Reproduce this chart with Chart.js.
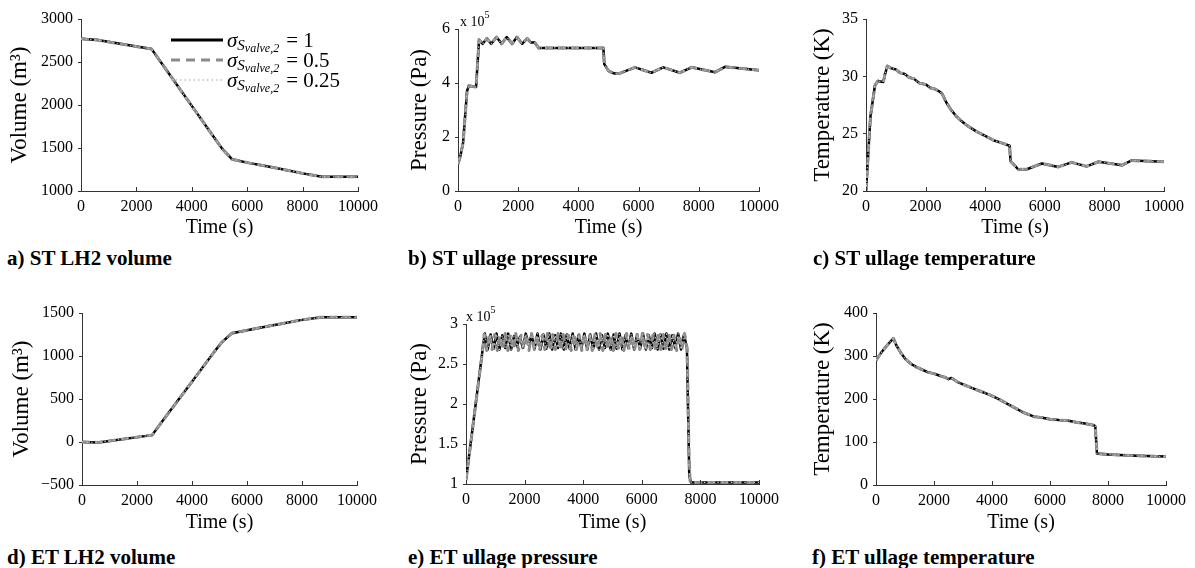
<!DOCTYPE html>
<html><head><meta charset="utf-8">
<script src="https://cdn.jsdelivr.net/npm/chart.js@4.4.1/dist/chart.umd.min.js"></script>
<style>
html,body{margin:0;padding:0;background:#fff;}
body{width:1195px;height:568px;position:relative;overflow:hidden;font-family:'Liberation Serif','Times New Roman',serif;color:#000;}
canvas.pc{position:absolute;}
.ptitle{position:absolute;font-weight:bold;font-size:21px;line-height:24px;white-space:nowrap;}
.mult{position:absolute;font-size:14px;line-height:16px;white-space:nowrap;}
.mult sup{font-size:10px;position:relative;top:-2px;}
.legend{position:absolute;left:171px;top:30px;}
.lrow{height:20px;display:flex;align-items:center;white-space:nowrap;}
.lrow svg{width:52px;height:20px;margin-right:4px;}
.sig{font-style:italic;font-size:21px;}
.s1{font-style:italic;font-size:15px;position:relative;top:5px;}
.s2{font-style:italic;font-size:12px;position:relative;top:2px;}
.eq{font-size:21px;margin-left:7px;}
</style>
</head>
<body>
<canvas id="ca" class="pc" width="395" height="245" style="left:0;top:0"></canvas>
<canvas id="cb" class="pc" width="395" height="245" style="left:400px;top:0"></canvas>
<canvas id="cc" class="pc" width="395" height="245" style="left:800px;top:0"></canvas>
<canvas id="cd" class="pc" width="395" height="255" style="left:0;top:285px"></canvas>
<canvas id="ce" class="pc" width="395" height="255" style="left:400px;top:285px"></canvas>
<canvas id="cf" class="pc" width="395" height="255" style="left:800px;top:285px"></canvas>

<div class="mult" style="left:460px;top:9px">x 10<sup>5</sup></div>
<div class="mult" style="left:466px;top:304px">x 10<sup>5</sup></div>

<div class="legend">
  <div class="lrow"><svg viewBox="0 0 52 20"><line x1="0" y1="10" x2="52" y2="10" stroke="#000" stroke-width="3"/></svg><span class="sig">σ</span><span class="s1">S<span class="s2">valve,2</span></span><span class="eq">= 1</span></div>
  <div class="lrow"><svg viewBox="0 0 52 20"><line x1="0" y1="10" x2="52" y2="10" stroke="#8a8a8a" stroke-width="3" stroke-dasharray="9,6"/></svg><span class="sig">σ</span><span class="s1">S<span class="s2">valve,2</span></span><span class="eq">= 0.5</span></div>
  <div class="lrow"><svg viewBox="0 0 52 20"><line x1="0" y1="10" x2="52" y2="10" stroke="#bdbdbd" stroke-width="1.5" stroke-dasharray="1.5,3"/></svg><span class="sig">σ</span><span class="s1">S<span class="s2">valve,2</span></span><span class="eq">= 0.25</span></div>
</div>

<div class="ptitle" style="left:7px;top:246px">a) ST LH2 volume</div>
<div class="ptitle" style="left:408px;top:246px">b) ST ullage pressure</div>
<div class="ptitle" style="left:813px;top:246px">c) ST ullage temperature</div>
<div class="ptitle" style="left:7px;top:545px">d) ET LH2 volume</div>
<div class="ptitle" style="left:408px;top:545px">e) ET ullage pressure</div>
<div class="ptitle" style="left:812px;top:545px">f) ET ullage temperature</div>

<script>
// ---------- DATA ----------
const seriesLabels = ['σ=1', 'σ=0.5', 'σ=0.25'];
const xTickStep = 2000;

// a) ST LH2 volume (m3)
const timesA = [0, 600, 2550, 3000, 4000, 4800, 5100, 5450, 6000, 7000, 8000, 8700, 10000];
const stVolume = [2770, 2755, 2650, 2445, 1990, 1625, 1490, 1370, 1330, 1270, 1205, 1165, 1165];

// b) ST ullage pressure (x 1e5 Pa)
const timesB = [0, 80, 170, 300, 360, 600, 700, 820, 960, 1100, 1280, 1450, 1620, 1800, 1960, 2130, 2300, 2420, 2550, 2680, 4830, 4860, 5000, 5200, 5350, 5880, 6430, 6820, 7370, 7760, 8540, 8870, 10000];
const stPressure = [1.0, 1.3, 1.8, 3.7, 3.9, 3.85, 5.6, 5.45, 5.65, 5.45, 5.7, 5.45, 5.7, 5.45, 5.7, 5.45, 5.65, 5.5, 5.5, 5.3, 5.3, 4.7, 4.45, 4.35, 4.35, 4.58, 4.38, 4.58, 4.38, 4.58, 4.4, 4.6, 4.47];

// c) ST ullage temperature (K)
const timesC = [0, 150, 300, 400, 580, 640, 715, 850, 1000, 1150, 1300, 1450, 1600, 1800, 2000, 2150, 2300, 2450, 2550, 2700, 2850, 3000, 3200, 3400, 3700, 4000, 4300, 4600, 4820, 4850, 5000, 5100, 5400, 5900, 6450, 6900, 7400, 7800, 8600, 8900, 10000];
const stTemperature = [20, 26.5, 29.2, 29.6, 29.5, 30.2, 30.9, 30.7, 30.6, 30.3, 30.2, 29.9, 29.8, 29.4, 29.3, 29.0, 28.9, 28.7, 28.5, 27.7, 27.1, 26.6, 26.1, 25.7, 25.2, 24.8, 24.4, 24.15, 23.95, 22.6, 22.2, 21.9, 21.9, 22.4, 22.1, 22.5, 22.15, 22.55, 22.25, 22.65, 22.55];

// d) ET LH2 volume (m3)
const timesD = [0, 600, 2550, 3000, 4000, 4800, 5100, 5450, 6000, 7000, 8000, 8700, 10000];
const etVolume = [0, -5, 80, 275, 700, 1045, 1165, 1265, 1300, 1360, 1420, 1450, 1450];

// e) ET ullage pressure (x 1e5 Pa) - series 1 (and 3)
const timesE1 = [0, 560, 640, 740, 840, 940, 1040, 1140, 1240, 1340, 1440, 1540, 1640, 1740, 1840, 1940, 2040, 2140, 2240, 2340, 2440, 2540, 2640, 2740, 2840, 2940, 3040, 3140, 3240, 3340, 3440, 3540, 3640, 3740, 3840, 3940, 4040, 4140, 4240, 4340, 4440, 4540, 4640, 4740, 4840, 4940, 5040, 5140, 5240, 5340, 5440, 5540, 5640, 5740, 5840, 5940, 6040, 6140, 6240, 6340, 6440, 6540, 6640, 6740, 6840, 6940, 7040, 7140, 7240, 7340, 7440, 7540, 7620, 7680, 10000];
const etPressure1 = [1.05, 2.66,
  2.88, 2.68, 2.87, 2.69, 2.88, 2.68, 2.86, 2.70, 2.88, 2.68, 2.85, 2.72, 2.84, 2.70, 2.88, 2.74, 2.86, 2.69, 2.88, 2.68,
  2.87, 2.69, 2.88, 2.68, 2.86, 2.70, 2.88, 2.68, 2.87, 2.69, 2.88, 2.68, 2.86, 2.70, 2.88, 2.68, 2.87, 2.69, 2.88, 2.68,
  2.86, 2.70, 2.88, 2.68, 2.87, 2.69, 2.88, 2.68, 2.86, 2.70, 2.88, 2.68, 2.87, 2.69, 2.88, 2.68, 2.86, 2.70, 2.88, 2.68,
  2.87, 2.69, 2.88, 2.68, 2.86, 2.70, 2.88, 2.68, 2.87, 2.70,
  1.1, 1.02, 1.02];
// e) series 2
const timesE2 = [0, 560, 620, 710, 800, 890, 980, 1070, 1160, 1250, 1340, 1430, 1520, 1610, 1700, 1790, 1880, 1970, 2060, 2150, 2240, 2330, 2420, 2510, 2600, 2690, 2780, 2870, 2960, 3050, 3140, 3230, 3320, 3410, 3500, 3590, 3680, 3770, 3860, 3950, 4040, 4130, 4220, 4310, 4400, 4490, 4580, 4670, 4760, 4850, 4940, 5030, 5120, 5210, 5300, 5390, 5480, 5570, 5660, 5750, 5840, 5930, 6020, 6110, 6200, 6290, 6380, 6470, 6560, 6650, 6740, 6830, 6920, 7010, 7100, 7190, 7280, 7370, 7460, 7550, 7610, 7650, 10000];
const etPressure2 = [1.05, 2.65,
  2.87, 2.67, 2.88, 2.68, 2.87, 2.67, 2.86, 2.68, 2.88, 2.67, 2.87, 2.68, 2.88, 2.67, 2.86, 2.69, 2.87, 2.67, 2.88, 2.68,
  2.87, 2.67, 2.86, 2.68, 2.88, 2.67, 2.87, 2.68, 2.88, 2.67, 2.87, 2.69, 2.86, 2.67, 2.88, 2.68, 2.87, 2.67, 2.88, 2.68,
  2.86, 2.67, 2.87, 2.68, 2.88, 2.67, 2.87, 2.68, 2.86, 2.67, 2.88, 2.68, 2.87, 2.67, 2.88, 2.68, 2.86, 2.67, 2.87, 2.68,
  2.88, 2.67, 2.87, 2.68, 2.86, 2.67, 2.88, 2.68, 2.87, 2.67, 2.88, 2.68, 2.86, 2.67, 2.87, 2.68, 2.88, 2.69,
  1.4, 1.02, 1.02];

// f) ET ullage temperature (K)
const timesF = [0, 150, 300, 450, 600, 700, 850, 1000, 1200, 1400, 1600, 1800, 2000, 2200, 2400, 2500, 2600, 2800, 3000, 3300, 3600, 3900, 4200, 4500, 4800, 5100, 5450, 5700, 6000, 6300, 6600, 6900, 7200, 7500, 7560, 7620, 8000, 9000, 10000];
const etTemperature = [290, 305, 318, 330, 341, 325, 308, 294, 282, 274, 268, 262, 259, 254, 250, 246, 249, 240, 234, 226, 218, 210, 201, 190, 179, 168, 159, 157, 153, 151, 150, 146, 143, 139, 137, 73, 71, 68, 66];

// ---------- CHART ----------
const FONT = "'Liberation Serif','Times New Roman',serif";
const AXIS = '#333';
function pts(t, v) { return t.map((x, i) => ({x: x, y: v[i]})); }

const inwardTicks = {
  id: 'inwardTicks',
  afterDraw(chart) {
    const x = chart.scales.x, y = chart.scales.y, ctx = chart.ctx;
    ctx.save();
    ctx.strokeStyle = AXIS; ctx.lineWidth = 1;
    x.ticks.forEach(t => {
      const px = Math.round(x.getPixelForValue(t.value)) + 0.5;
      ctx.beginPath(); ctx.moveTo(px, y.bottom); ctx.lineTo(px, y.bottom - 4); ctx.stroke();
    });
    ctx.restore();
  }
};

function makeChart(id, g) {
  const el = document.getElementById(id);
  const s = g.series;
  new Chart(el, {
    type: 'line',
    data: {
      datasets: [
        {label: seriesLabels[0], data: pts(s[0][0], s[0][1]), borderColor: '#000', borderWidth: 2.5, order: 2},
        {label: seriesLabels[1], data: pts(s[1][0], s[1][1]), borderColor: '#8a8a8a', borderWidth: 3, borderDash: [8, 5], order: 1},
        {label: seriesLabels[2], data: pts(s[2][0], s[2][1]), borderColor: '#bdbdbd', borderWidth: 1.2, borderDash: [1.5, 3], order: 0}
      ]
    },
    options: {
      responsive: false, animation: false,
      elements: {point: {radius: 0}, line: {tension: 0, fill: false, borderJoinStyle: 'round', borderCapStyle: 'butt'}},
      layout: {padding: {left: 0, top: g.top, right: g.right, bottom: 0}},
      plugins: {legend: {display: false}, tooltip: {enabled: false}},
      scales: {
        x: {
          type: 'linear', min: 0, max: 10000,
          afterFit: sc => { sc.height = g.xh; },
          ticks: {stepSize: xTickStep, autoSkip: false, maxRotation: 0, padding: 6,
                  color: '#000', font: {family: FONT, size: 16}, callback: v => String(v)},
          grid: {display: false, drawTicks: false},
          border: {display: true, color: AXIS, width: 1},
          title: {display: true, text: 'Time (s)', color: '#000', font: {family: FONT, size: 20}, padding: {top: 0, bottom: 5}}
        },
        y: {
          min: g.ymin, max: g.ymax,
          afterFit: sc => { sc.width = g.yw; },
          ticks: {stepSize: g.ystep, padding: 5, color: '#000', font: {family: FONT, size: 16},
                  callback: v => String(v).replace('-', '\u2212')},
          grid: {drawOnChartArea: false, drawTicks: true, tickLength: 3, color: AXIS},
          border: {display: true, color: AXIS, width: 1},
          title: {display: true, text: g.ytitle, color: '#000', font: {family: FONT, size: 23}, padding: {top: g.ytp, bottom: 0}}
        }
      }
    },
    plugins: [inwardTicks]
  });
}

makeChart('ca', {top: 19, right: 37, yw: 81, xh: 54, ymin: 1000, ymax: 3000, ystep: 500, ytitle: 'Volume (m³)', ytp: 6,
  series: [[timesA, stVolume], [timesA, stVolume], [timesA, stVolume]]});
makeChart('cb', {top: 29, right: 36, yw: 58, xh: 54, ymin: 0, ymax: 6, ystep: 2, ytitle: 'Pressure (Pa)', ytp: 6,
  series: [[timesB, stPressure], [timesB, stPressure], [timesB, stPressure]]});
makeChart('cc', {top: 19, right: 31, yw: 66, xh: 54, ymin: 20, ymax: 35, ystep: 5, ytitle: 'Temperature (K)', ytp: 9,
  series: [[timesC, stTemperature], [timesC, stTemperature], [timesC, stTemperature]]});
makeChart('cd', {top: 28, right: 38, yw: 82, xh: 55, ymin: -500, ymax: 1500, ystep: 500, ytitle: 'Volume (m³)', ytp: 8,
  series: [[timesD, etVolume], [timesD, etVolume], [timesD, etVolume]]});
makeChart('ce', {top: 39, right: 36, yw: 66, xh: 56, ymin: 1, ymax: 3, ystep: 0.5, ytitle: 'Pressure (Pa)', ytp: 6,
  series: [[timesE1, etPressure1], [timesE2, etPressure2], [timesE1, etPressure1]]});
makeChart('cf', {top: 28, right: 29, yw: 76, xh: 55, ymin: 0, ymax: 400, ystep: 100, ytitle: 'Temperature (K)', ytp: 9,
  series: [[timesF, etTemperature], [timesF, etTemperature], [timesF, etTemperature]]});
</script>
</body></html>
